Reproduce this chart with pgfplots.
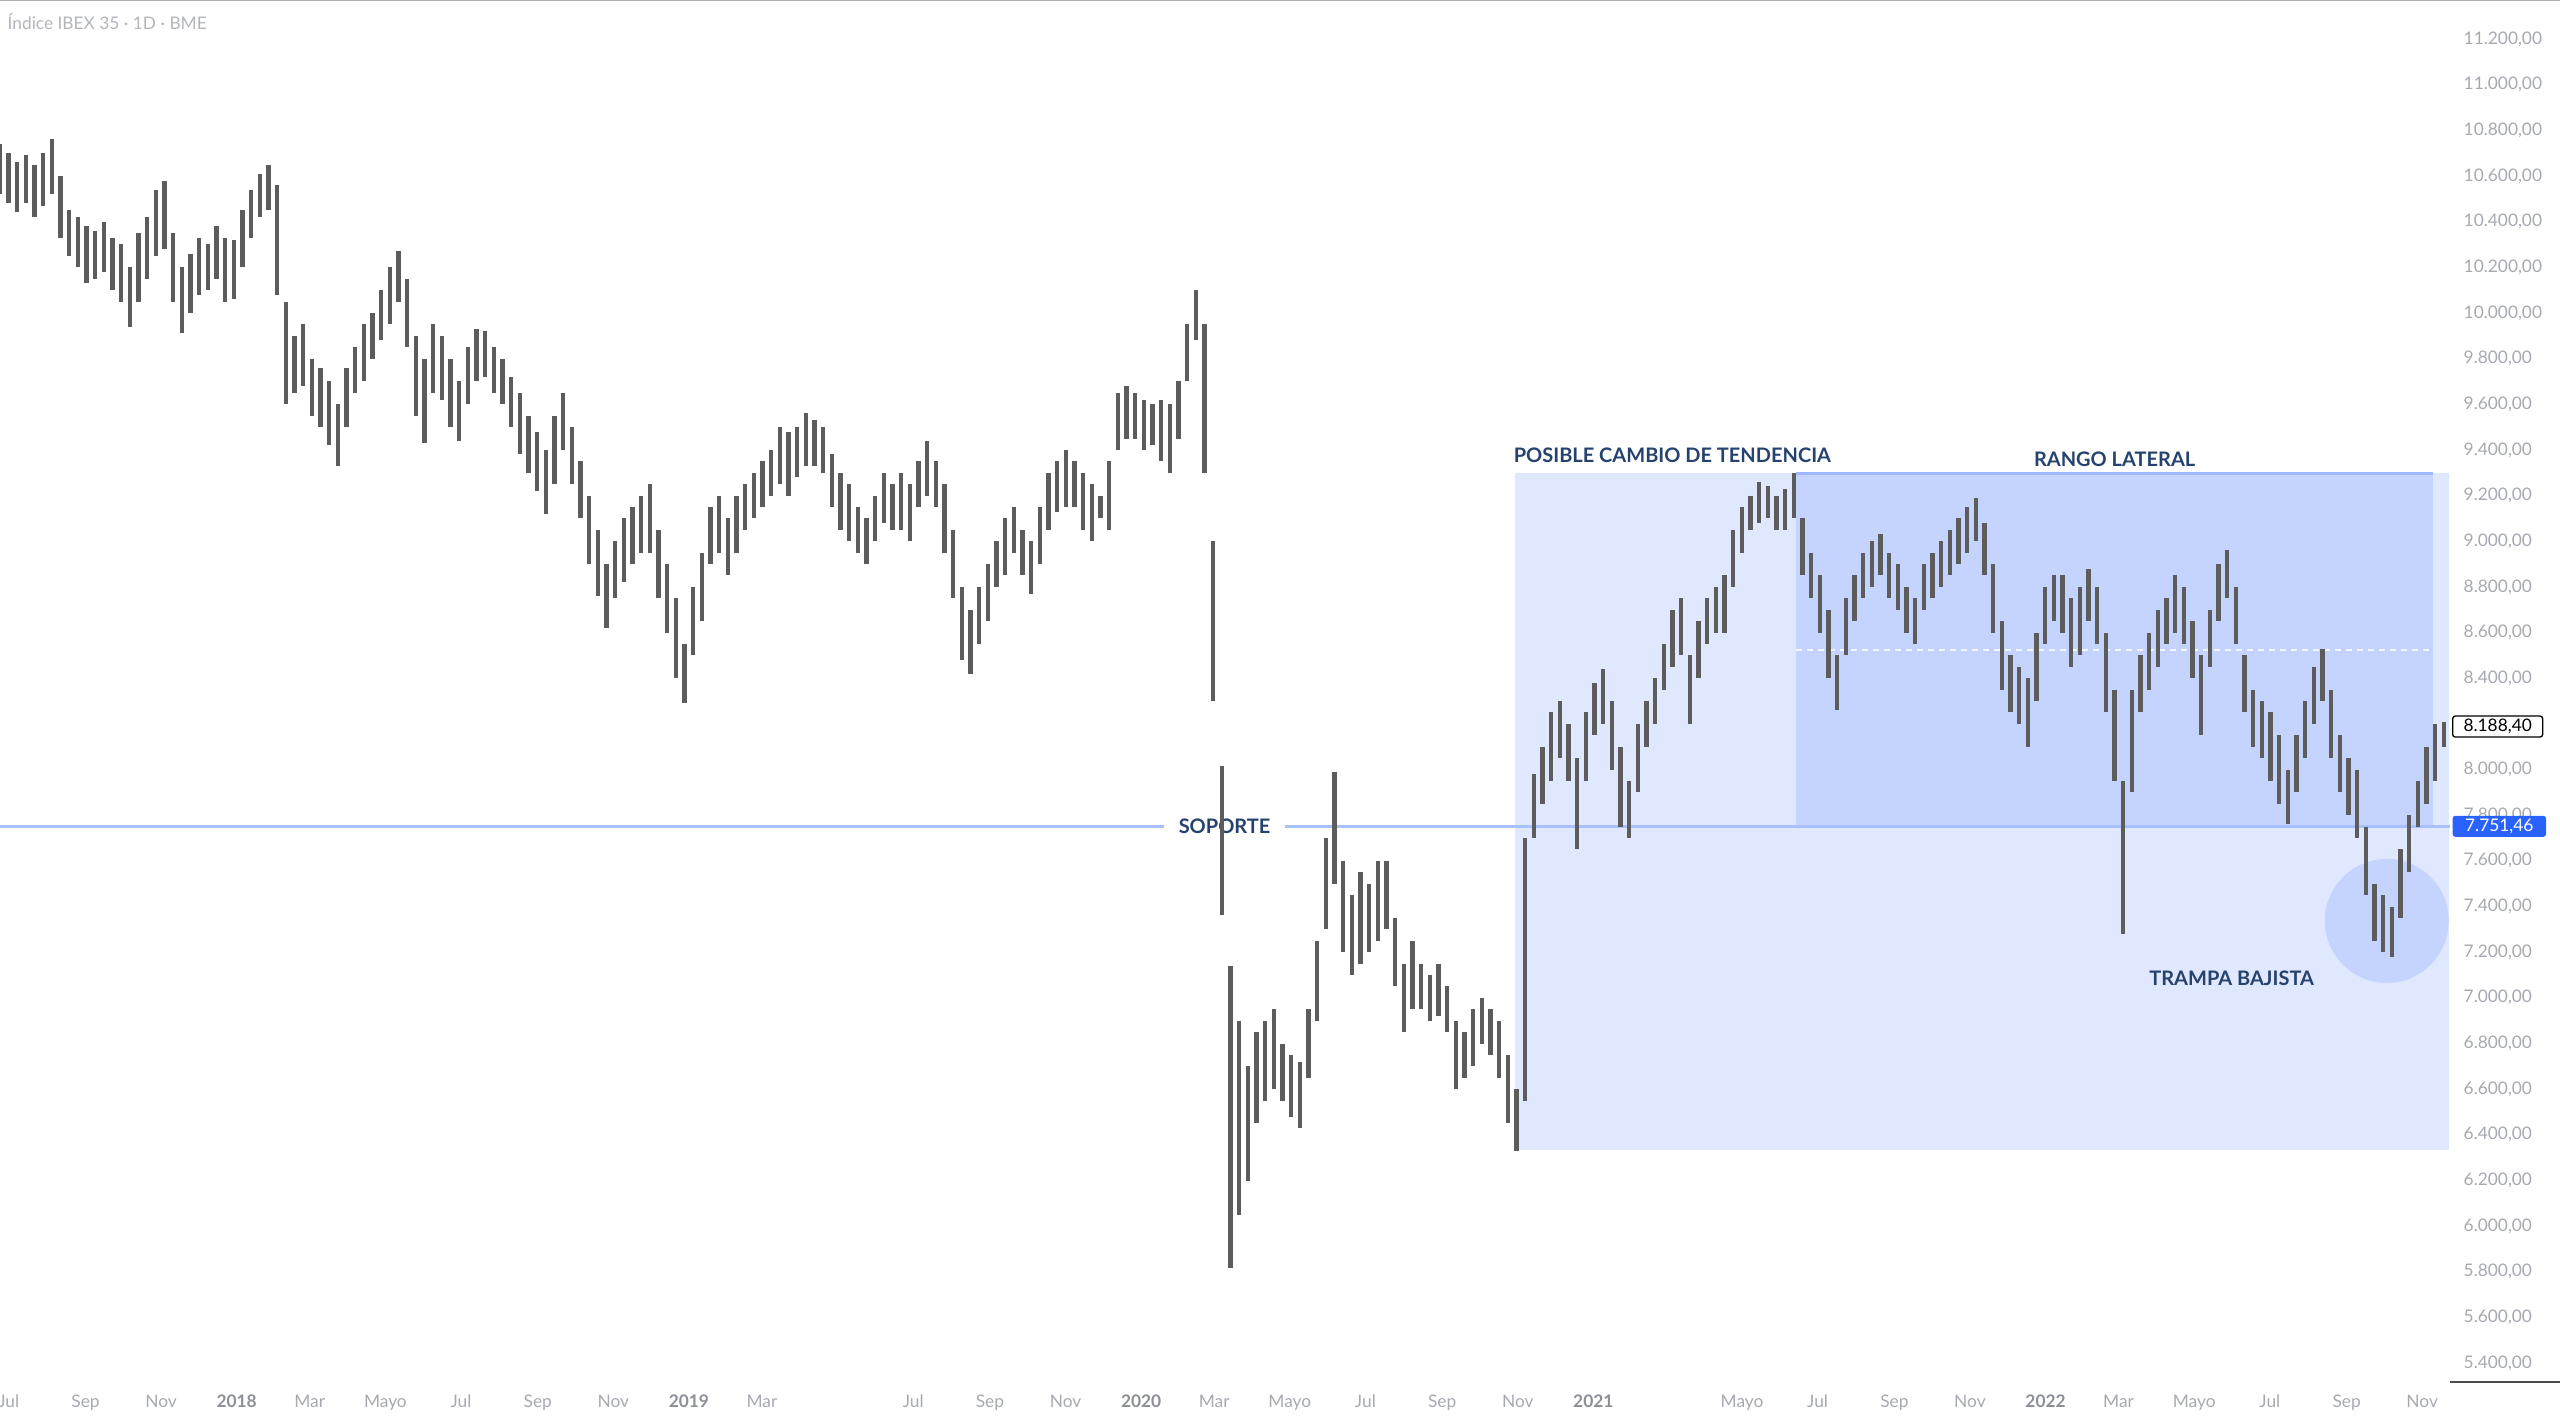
\documentclass[border=0pt]{standalone}
\usepackage{pgfplots}
\pgfplotsset{compat=1.18}
\usepackage{pgfplotstable}
\usepackage{fontspec}
\setmainfont{Lato}

\definecolor{tvblue}{HTML}{2962FF}
\definecolor{navy}{HTML}{26426F}
\definecolor{barcol}{HTML}{5C5C5C}
\definecolor{lblcol}{HTML}{A6A9B0}
\definecolor{yrcol}{HTML}{8C8F97}
\definecolor{titlecol}{HTML}{B2B5BC}

\newcommand\yr[1]{\textcolor{yrcol}{\bfseries #1}}

% weekly high / low of the IBEX 35, week 0 = late June 2017
\pgfplotstableread{
w hi lo
0 10740 10520
1 10700 10480
2 10660 10440
3 10690 10480
4 10650 10420
5 10700 10470
6 10760 10520
7 10600 10330
8 10450 10250
9 10420 10200
10 10380 10130
11 10360 10150
12 10400 10180
13 10330 10100
14 10300 10050
15 10200 9940
16 10350 10050
17 10420 10150
18 10540 10250
19 10580 10280
20 10350 10050
21 10200 9910
22 10260 10000
23 10330 10080
24 10300 10100
25 10380 10150
26 10330 10050
27 10320 10060
28 10450 10200
29 10540 10330
30 10610 10420
31 10650 10450
32 10560 10080
33 10050 9600
34 9900 9650
35 9950 9680
36 9800 9550
37 9760 9500
38 9700 9420
39 9600 9330
40 9760 9500
41 9850 9650
42 9950 9700
43 10000 9800
44 10100 9880
45 10200 9950
46 10270 10050
47 10150 9850
48 9900 9550
49 9800 9430
50 9950 9650
51 9900 9620
52 9800 9500
53 9700 9440
54 9850 9600
55 9930 9700
56 9920 9720
57 9850 9650
58 9800 9600
59 9720 9500
60 9650 9380
61 9550 9300
62 9480 9220
63 9400 9120
64 9550 9250
65 9650 9400
66 9500 9250
67 9350 9100
68 9200 8900
69 9050 8760
70 8900 8620
71 9000 8750
72 9100 8820
73 9150 8900
74 9200 8950
75 9250 8950
76 9050 8750
77 8900 8600
78 8750 8400
79 8550 8290
80 8800 8500
81 8950 8650
82 9150 8900
83 9200 8950
84 9100 8850
85 9200 8950
86 9250 9050
87 9300 9100
88 9350 9150
89 9400 9200
90 9500 9250
91 9480 9200
92 9500 9280
93 9560 9330
94 9530 9330
95 9500 9300
96 9380 9150
97 9300 9050
98 9250 9000
99 9150 8950
100 9100 8900
101 9200 9000
102 9300 9080
103 9250 9050
104 9300 9050
105 9250 9000
106 9350 9150
107 9440 9200
108 9350 9150
109 9250 8950
110 9050 8750
111 8800 8480
112 8700 8420
113 8800 8550
114 8900 8650
115 9000 8800
116 9100 8850
117 9150 8950
118 9050 8850
119 9000 8770
120 9150 8900
121 9300 9050
122 9350 9130
123 9400 9150
124 9350 9150
125 9300 9050
126 9250 9000
127 9200 9100
128 9350 9050
129 9650 9400
130 9680 9450
131 9650 9450
132 9620 9400
133 9600 9420
134 9620 9350
135 9600 9300
136 9700 9450
137 9950 9700
138 10100 9880
139 9950 9300
140 9000 8300
141 8016 7363
142 7140 5815
143 6900 6050
144 6700 6200
145 6850 6450
146 6900 6550
147 6950 6600
148 6800 6550
149 6750 6480
150 6720 6430
151 6950 6650
152 7250 6900
153 7700 7300
154 7990 7500
155 7600 7200
156 7450 7100
157 7550 7150
158 7500 7200
159 7600 7250
160 7600 7300
161 7350 7050
162 7150 6850
163 7250 6950
164 7150 6950
165 7100 6900
166 7150 6920
167 7050 6850
168 6900 6600
169 6850 6650
170 6950 6700
171 7000 6800
172 6950 6750
173 6900 6650
174 6750 6450
175 6600 6330
176 7700 6550
177 7980 7700
178 8100 7850
179 8250 7950
180 8300 8050
181 8200 7950
182 8050 7650
183 8250 7950
184 8380 8150
185 8440 8200
186 8300 8000
187 8100 7750
188 7950 7700
189 8200 7900
190 8300 8100
191 8400 8200
192 8550 8350
193 8700 8450
194 8750 8500
195 8500 8200
196 8650 8400
197 8750 8550
198 8800 8600
199 8850 8600
200 9050 8800
201 9150 8950
202 9200 9050
203 9260 9080
204 9240 9100
205 9200 9050
206 9230 9050
207 9300 9100
208 9100 8850
209 8950 8750
210 8850 8600
211 8700 8400
212 8500 8260
213 8750 8500
214 8850 8650
215 8950 8750
216 9000 8800
217 9030 8850
218 8950 8750
219 8900 8700
220 8800 8600
221 8750 8550
222 8900 8700
223 8950 8750
224 9000 8800
225 9050 8850
226 9100 8900
227 9150 8950
228 9190 9000
229 9080 8850
230 8900 8600
231 8650 8350
232 8500 8250
233 8450 8200
234 8400 8100
235 8600 8300
236 8800 8550
237 8850 8650
238 8850 8600
239 8750 8450
240 8800 8500
241 8880 8650
242 8800 8550
243 8600 8250
244 8350 7950
245 7950 7280
246 8350 7900
247 8500 8250
248 8600 8350
249 8700 8450
250 8750 8550
251 8850 8600
252 8800 8550
253 8650 8400
254 8500 8150
255 8700 8450
256 8900 8650
257 8960 8750
258 8800 8550
259 8500 8250
260 8350 8100
261 8300 8050
262 8250 7950
263 8150 7850
264 8000 7760
265 8150 7900
266 8300 8050
267 8450 8200
268 8530 8300
269 8350 8050
270 8150 7900
271 8050 7800
272 8000 7700
273 7750 7450
274 7500 7250
275 7450 7200
276 7400 7180
277 7650 7350
278 7800 7550
279 7950 7750
280 8100 7850
281 8200 7950
282 8210 8100
}\ibex

\begin{document}
\begin{tikzpicture}
\begin{axis}[
  at={(0pt,425.1pt)}, anchor=north west,
  scale only axis,
  width=735pt, height=414.6pt,
  xmin=0, xmax=282.7,
  ymin=5317.5, ymax=11370.8,
  clip=false,
  axis line style={draw=none},
  major tick length=0pt,
  scaled y ticks=false,
  ytick={5400,5600,...,11200},
  yticklabel pos=right,
  y tick label style={
    /pgf/number format/.cd,
      fixed, fixed zerofill, precision=2,
      use comma, 1000 sep={.},
      assume math mode=true,
    /tikz/.cd,
    anchor=west, inner sep=0pt, xshift=3.9pt,
    text=lblcol, font=\fontsize{5.2}{6}\selectfont
  },
  xtick={1.01,9.87,18.59,27.31,35.74,44.47,53.19,62.05,70.77,79.49,87.92,
         105.37,114.23,122.95,131.67,140.10,148.83,157.55,166.41,175.13,183.85,
         201.01,209.73,218.59,227.31,236.03,244.46,253.19,261.91,270.77,279.49},
  xticklabels={Jul,Sep,Nov,\yr{2018},Mar,Mayo,Jul,Sep,Nov,\yr{2019},Mar,
               Jul,Sep,Nov,\yr{2020},Mar,Mayo,Jul,Sep,Nov,\yr{2021},
               Mayo,Jul,Sep,Nov,\yr{2022},Mar,Mayo,Jul,Sep,Nov},
  x tick label style={
    anchor=base, inner sep=0pt, yshift=-7.5pt,
    text=lblcol, font=\fontsize{5.2}{6}\selectfont
  },
]
% zones
\fill[tvblue, fill opacity=0.15] (axis cs:174.8,6335) rectangle (axis cs:282.6,9297);
\fill[tvblue, fill opacity=0.15] (axis cs:207.2,7751.46) rectangle (axis cs:280.7,9297);
\fill[tvblue, fill opacity=0.15] (axis cs:275.4,7337) circle[radius=18.6pt];
\draw[tvblue!45!white, line width=0.7pt] (axis cs:207.2,9297) -- (axis cs:280.7,9297);
\draw[white, line width=0.45pt, dash pattern=on 2pt off 1.3pt, opacity=0.8]
  (axis cs:207.2,8524) -- (axis cs:280.7,8524);
% support
\draw[tvblue!40!white, line width=0.75pt] (axis cs:0,7751.46) -- (axis cs:282.7,7751.46);
\node[fill=white, inner xsep=4.5pt, inner ysep=1pt, text=navy,
      font=\fontsize{6}{7}\selectfont\bfseries] at (axis cs:141.3,7751.46) {SOPORTE};

% price bars
\addplot[draw=none, forget plot,
  error bars/.cd, y dir=minus, y explicit, error mark=none,
  error bar style={draw=barcol, line width=1.3pt}]
  table[x=w, y=hi, y error minus expr=\thisrow{hi}-\thisrow{lo}] {\ibex};

% notes
\node[anchor=west, inner sep=0pt, text=navy, font=\fontsize{6}{7}\selectfont\bfseries]
  at (axis cs:174.6,9375) {POSIBLE CAMBIO DE TENDENCIA};
\node[inner sep=0pt, text=navy, font=\fontsize{6}{7}\selectfont\bfseries]
  at (axis cs:244.0,9361) {RANGO LATERAL};
\node[inner sep=0pt, text=navy, font=\fontsize{6}{7}\selectfont\bfseries]
  at (axis cs:257.5,7087) {TRAMPA BAJISTA};

% price scale markers
\node[anchor=west, fill=white, draw=black, line width=0.4pt, rounded corners=0.8pt,
      minimum width=27pt, minimum height=6.3pt, inner sep=0pt,
      font=\fontsize{5.2}{6}\selectfont]
  at ([xshift=0.6pt]axis cs:282.7,8188.4) {8.188,40};
\node[anchor=west, fill=tvblue, text=white, rounded corners=0.8pt,
      minimum width=28pt, minimum height=6.3pt, inner sep=0pt,
      font=\fontsize{5.2}{6}\selectfont]
  at ([xshift=0.6pt]axis cs:282.7,7751.46) {7.751,46};

% frame bits and title
\draw[black!30, line width=0.6pt] (rel axis cs:0,1) -- ([xshift=33pt]rel axis cs:1,1);
\draw[black!70, line width=0.4pt] (rel axis cs:1,0) -- ([xshift=33pt]rel axis cs:1,0);
\node[anchor=west, inner sep=0pt, text=titlecol, font=\fontsize{5.2}{6}\selectfont]
  at ([xshift=2.1pt, yshift=-6.6pt]rel axis cs:0,1) {Índice IBEX 35 · 1D · BME};
\end{axis}
\pgfresetboundingbox
\path[use as bounding box] (0,0) rectangle (768pt,425.1pt);
\end{tikzpicture}
\end{document}
